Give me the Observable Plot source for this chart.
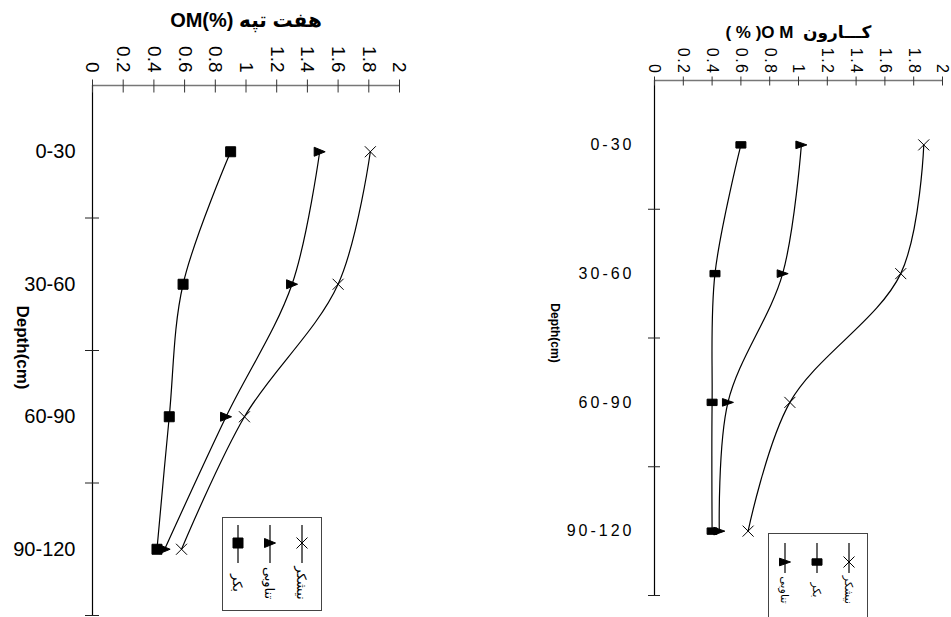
<!DOCTYPE html>
<html>
<head>
<meta charset="utf-8">
<script src="https://cdn.jsdelivr.net/npm/d3@7"></script>
<script src="https://cdn.jsdelivr.net/npm/@observablehq/plot@0.6"></script>
<style>
  body { margin: 0; background: #fff; }
  #wrap { position: relative; width: 951px; height: 617px; overflow: hidden; background: #fff; }
  #wrap > * { position: absolute; }
  #rightPanel g[aria-label="y-axis tick label"] { letter-spacing: 3px; }
  #rightPanel g[aria-label="x-axis tick label"] { letter-spacing: 1.5px; }
</style>
</head>
<body>
<div id="wrap"></div>
<script>
// ---------------- data ----------------
const depths = ["0-30", "30-60", "60-90", "90-120"];
const seriesNames = ["بکر", "تناوبی", "نیشکر"];
const xTicks = [0, 0.2, 0.4, 0.6, 0.8, 1, 1.2, 1.4, 1.6, 1.8, 2];

// هفت تپه
const haftTitle = "OM(%) هفت تپه";
const haftBekr = [0.90, 0.59, 0.50, 0.42];
const haftTanavobi = [1.48, 1.30, 0.87, 0.47];
const haftNeyshekar = [1.81, 1.60, 0.99, 0.58];

// کارون
const karunTitle = "( % )O M  کـــارون";
const karunBekr = [0.60, 0.42, 0.40, 0.40];
const karunTanavobi = [1.02, 0.89, 0.51, 0.45];
const karunNeyshekar = [1.87, 1.71, 0.94, 0.65];

const axisTitle = "Depth(cm)";

// ---------------- helpers ----------------
function rectSym(w, h) {
  return { draw(ctx, size) { const r = Math.sqrt(size / Math.PI); ctx.rect(-w * r, -h * r, 2 * w * r, 2 * h * r); } };
}
function triSym(w, h) {
  return { draw(ctx, size) { const r = Math.sqrt(size / Math.PI);
    ctx.moveTo(-w * r, -h * r); ctx.lineTo(w * r, 0); ctx.lineTo(-w * r, h * r); ctx.closePath(); } };
}
function timesSym(k) {
  return { draw(ctx, size) { const r = Math.sqrt(size / Math.PI) * k;
    ctx.moveTo(-r, -r); ctx.lineTo(r, r); ctx.moveTo(-r, r); ctx.lineTo(r, -r); } };
}

function rowsOf(seriesValues) {
  const rows = [];
  seriesNames.forEach((s, si) => {
    seriesValues[si].forEach((v, i) => rows.push({ series: s, di: i, depth: depths[i], value: v }));
  });
  return rows;
}

function panel(cfg) {
  const rows = rowsOf(cfg.values);
  const n = depths.length;
  const centers = depths.map((d, i) => i);
  const bounds = depths.map((d, i) => i + 0.5);
  return Plot.plot({
    width: cfg.width, height: 617,
    marginLeft: cfg.ml, marginRight: cfg.mr, marginTop: cfg.mt, marginBottom: cfg.mb,
    style: { fontFamily: cfg.font, color: "black", background: "transparent", overflow: "visible" },
    x: { domain: [0, 2], label: null },
    y: { domain: [-0.5, n - 0.5], reverse: true, label: null },
    symbol: { domain: seriesNames, range: cfg.symbols },
    marks: [
      Plot.ruleY([-0.5], { stroke: "#777", strokeWidth: 1.6 }),
      Plot.ruleX([0], { stroke: "black", strokeWidth: 1.2 }),
      Plot.axisX(xTicks, { anchor: "top", tickSize: cfg.xTick * 2, dy: cfg.xTick, text: null, label: null, stroke: "#333" }),
      Plot.axisX(xTicks, { anchor: "top", tickSize: 0, tickPadding: cfg.xPad, tickRotate: 90, label: null,
        tickFormat: d => String(d), fontSize: cfg.xFont, fontFamily: cfg.tickFont }),
      Plot.axisY(bounds, { anchor: "left", tickSize: cfg.yTick * 2, dx: cfg.yTick, text: null, label: null, stroke: "#222" }),
      Plot.axisY(centers, { anchor: "left", tickSize: 0, tickPadding: cfg.yPad, label: null,
        tickFormat: i => depths[i], fontSize: cfg.yFont, fontFamily: cfg.tickFont }),
      Plot.line(rows, { x: "value", y: "di", z: "series", curve: "catmull-rom", stroke: "black", strokeWidth: 1.2 }),
      Plot.dot(rows, { x: "value", y: "di", symbol: "series", r: 1, fill: "black", stroke: "black", strokeWidth: 1 }),
      Plot.text([cfg.title], { frameAnchor: "top", dy: cfg.titleDy, fontSize: cfg.titleFont, fontWeight: "bold",
        fontFamily: cfg.titleFamily }),
      Plot.text([axisTitle], { frameAnchor: "left", textAnchor: "middle", dx: cfg.labelDx, dy: cfg.labelDy, rotate: 90,
        fontSize: cfg.labelFont, fontWeight: "bold", fontFamily: "'Liberation Sans', Arial, sans-serif" })
    ]
  });
}

function legend(cfg) {
  const svg = d3.create("svg").attr("width", cfg.w).attr("height", cfg.h)
    .style("left", cfg.left + "px").style("top", cfg.top + "px").style("overflow", "visible");
  svg.append("rect").attr("x", 0.5).attr("y", 0.5).attr("width", cfg.w - 1).attr("height", cfg.h - 1)
    .attr("fill", "white").attr("stroke", "#444").attr("stroke-width", 1);
  cfg.order.forEach((si, k) => {
    const g = svg.append("g").attr("transform", `translate(${cfg.x0 + k * cfg.dx},0)`);
    g.append("line").attr("x1", 0).attr("x2", 0).attr("y1", cfg.ly1).attr("y2", cfg.ly2).attr("stroke", "black").attr("stroke-width", 1.2);
    g.append("path").attr("transform", `translate(0,${cfg.my})`)
      .attr("d", d3.symbol(cfg.symbols[si], Math.PI)())
      .attr("fill", "black").attr("stroke", "black").attr("stroke-width", 1);
    g.append("text").attr("transform", `translate(0,${cfg.ty}) rotate(90)`)
      .attr("text-anchor", "middle").attr("dy", "0.35em")
      .attr("font-size", cfg.font).attr("font-family", "'DejaVu Sans', sans-serif")
      .text(seriesNames[si]);
  });
  return svg.node();
}

// ---------------- build ----------------
const wrap = document.getElementById("wrap");
const leftSyms = [rectSym(5, 5), triSym(5.5, 4.5), timesSym(5.5)];
const rightSyms = [rectSym(5, 3.2), triSym(5.5, 3.8), timesSym(5.5)];

const left = panel({
  width: 470, ml: 92, mr: 71, mt: 85, mb: 2,
  values: [haftBekr, haftTanavobi, haftNeyshekar], symbols: leftSyms,
  font: "'Liberation Sans', 'DejaVu Sans', sans-serif", tickFont: "'Liberation Sans', sans-serif",
  xTick: 6.5, xPad: 13, xFont: 19, yTick: 7, yPad: 17, yFont: 20,
  title: haftTitle, titleDy: -73, titleFont: 20, titleFamily: "'Liberation Sans', 'DejaVu Sans', sans-serif",
  labelDx: -70, labelDy: -3, labelFont: 17
});
left.style.left = "0px"; left.style.top = "0px";
wrap.appendChild(left);

const right = panel({
  width: 471, ml: 174, mr: 9, mt: 80, mb: 22,
  values: [karunBekr, karunTanavobi, karunNeyshekar], symbols: rightSyms,
  font: "'Liberation Sans', 'DejaVu Sans', sans-serif", tickFont: "'Liberation Sans', sans-serif",
  xTick: 4.5, xPad: 6, xFont: 16, yTick: 6, yPad: 20, yFont: 16,
  title: karunTitle, titleDy: -55, titleFont: 17, titleFamily: "'Liberation Sans', 'DejaVu Sans', sans-serif",
  labelDx: -100, labelDy: -5, labelFont: 12
});
const rightDiv = document.createElement("div");
rightDiv.id = "rightPanel";
rightDiv.style.left = "480px"; rightDiv.style.top = "0px";
rightDiv.appendChild(right);
wrap.appendChild(rightDiv);

wrap.appendChild(legend({ left: 222, top: 517, w: 100, h: 94, order: [0, 1, 2], x0: 16, dx: 32,
  ly1: 8, ly2: 46, my: 26, ty: 66, font: 13, symbols: leftSyms }));
wrap.appendChild(legend({ left: 768, top: 533, w: 100, h: 90, order: [1, 0, 2], x0: 17, dx: 32,
  ly1: 10, ly2: 40, my: 29, ty: 57, font: 11, symbols: rightSyms }));
</script>
</body>
</html>
